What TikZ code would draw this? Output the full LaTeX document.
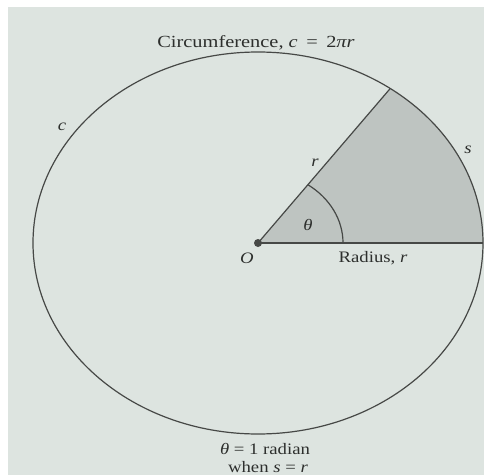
\documentclass[tikz,border=0pt]{standalone}
\usepackage{fontspec}
\setmainfont{Liberation Serif}
\usetikzlibrary{calc}
\definecolor{bgc}{RGB}{221,228,224}
\definecolor{secc}{RGB}{190,196,193}
\definecolor{inkc}{RGB}{70,72,70}
\definecolor{txtc}{RGB}{45,47,45}
\newcommand{\tx}[1]{\scalebox{1.17}[1]{#1}}
\tikzset{
  lbl/.style={inner sep=0pt, text=txtc, font=\fontsize{16}{18}\selectfont},
  ln/.style={draw=inkc, line width=1.2pt},
}
\begin{document}
\begin{tikzpicture}[x=1pt,y=1pt]
\useasboundingbox (0,0) rectangle (484,475);
\fill[white] (0,0) rectangle (484,475);
\fill[bgc] (8,0) rectangle (484,468);
\coordinate (C) at (258,232);
\coordinate (B) at (483,232);
\coordinate (A) at ($(C)+(54:225pt and 191pt)$);
\coordinate (a0) at ($(C)+(85,0)$);
% sector
\fill[secc] (C) -- (B) arc[start angle=0, end angle=54, x radius=225pt, y radius=191pt] -- cycle;
% circle
\draw[ln] (C) ellipse [x radius=225pt, y radius=191pt];
% radii
\draw[ln] (C) -- (B);
\draw[ln] (C) -- (A);
% angle arc
\draw[ln] (a0) arc[start angle=0, end angle=54, x radius=85pt, y radius=72pt];
% centre dot
\node[circle, fill=inkc, inner sep=0pt, minimum size=8pt] (O) at (C) {};
% labels
\node[lbl, font=\fontsize{17}{19}\selectfont] (circ) at (256,432) {\scalebox{1.2}[1]{Circumference, \textit{c}\, = \,2\textit{πr}}};
\node[lbl] (lc) at (62,348) {\tx{\textit{c}}};
\node[lbl] (ls) at (468,325) {\tx{\textit{s}}};
\node[lbl] (lr) at (315,312) {\tx{\textit{r}}};
\node[lbl] (lth) at (308,250) {\tx{\textit{θ}}};
\node[lbl] (lO) at (247,217) {\tx{\textit{O}}};
\node[lbl] (lrad) at (373,217) {\tx{Radius, \textit{r}}};
\node[lbl] (l1) at (265,26) {\tx{\textit{θ} = 1 radian}};
\node[lbl] (l2) at (268,8) {\tx{when \textit{s} = \textit{r}}};
\end{tikzpicture}
\end{document}
